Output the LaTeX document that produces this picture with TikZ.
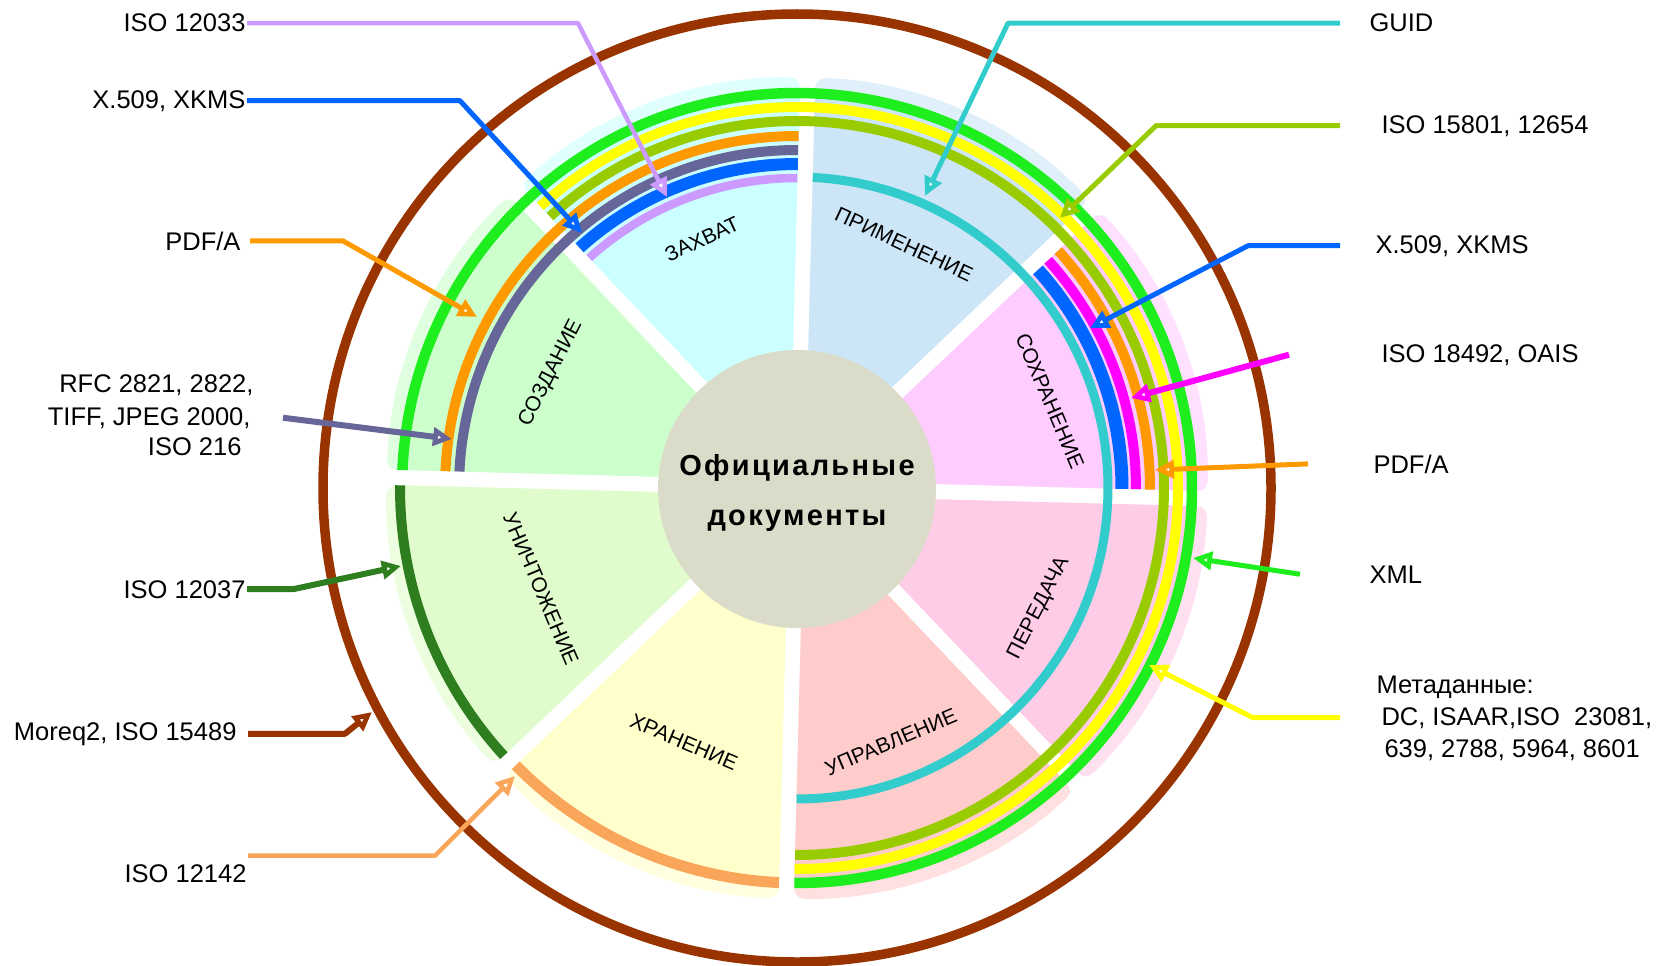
\documentclass[tikz,border=0pt]{standalone}
\usepackage{fontspec}
\setmainfont{Liberation Sans}
\usetikzlibrary{arrows.meta}
\definecolor{cZah}{HTML}{CCFFFF}
\definecolor{cPri}{HTML}{CCE6F7}
\definecolor{cSoh}{HTML}{FFCCFF}
\definecolor{cPer}{HTML}{FFCCE8}
\definecolor{cUpr}{HTML}{FFCCCC}
\definecolor{cHra}{HTML}{FFFFCC}
\definecolor{cUni}{HTML}{E0FCCC}
\definecolor{cSoz}{HTML}{CCFFCC}
\definecolor{aGreen}{HTML}{1EEE1E}
\definecolor{aYellow}{HTML}{FFFF00}
\definecolor{aOlive}{HTML}{99CC00}
\definecolor{aOrange}{HTML}{FF9900}
\definecolor{aSlate}{HTML}{666699}
\definecolor{aBlue}{HTML}{0066FF}
\definecolor{aLav}{HTML}{CC99FF}
\definecolor{aTeal}{HTML}{33CCCC}
\definecolor{aMag}{HTML}{FF00FF}
\definecolor{aLOrange}{HTML}{F9A65A}
\definecolor{aDGreen}{HTML}{2E7D1F}
\definecolor{aBrown}{HTML}{993300}
\definecolor{cCore}{HTML}{DADBC8}
\newcommand\bandarc[5]{\draw[#1, line width=#3pt, line cap=butt] ({#4}:#2) arc[start angle={#4}, end angle={#5}, radius=#2];}
\newcommand\wedgepath[1]{({#1+22.5}:20) -- ++(#1:392) arc[start angle=#1, end angle=#1+45, radius=392] -- cycle}
\begin{document}
\begin{tikzpicture}[x=1pt,y=-1pt,
  lbl/.style={font=\fontsize{25.5}{30}\selectfont, inner sep=0pt, outer sep=1.5pt},
  sec/.style={font=\fontsize{21}{24}\selectfont, inner sep=0pt},
  call/.style={line width=5pt, line join=round, -{Triangle[length=19pt,width=18pt,fill=white]}},
]
\useasboundingbox (0,0) rectangle (1663,966);

% ---- sectors, rings and circle (polar frame centred on the core) ----
\begin{scope}[shift={(797,488)}, yscale=-1]
 \begin{scope}[rotate=1.5]
  % outer, lighter band of every sector
  \foreach \a/\c in {90/cZah, 45/cPri, 0/cSoh, -45/cPer, -90/cUpr, -135/cHra, 180/cUni, 135/cSoz}{
    \fill[\c!60!white, rounded corners=10pt] \wedgepath{\a};
  }
  % inner part of every sector
  \begin{scope}
    \clip (0,0) circle[radius=396];
    \foreach \a/\c in {90/cZah, 45/cPri, 0/cSoh, -45/cPer, -90/cUpr, -135/cHra, 180/cUni, 135/cSoz}{
      \fill[\c, rounded corners=10pt] \wedgepath{\a};
    }
  \end{scope}
  % long rings
  \bandarc{aGreen}{395}{10.5}{180-asin(7.65/395)}{-90+asin(7.65/395)}
  \bandarc{aYellow}{381}{10}{135-asin(7.65/381)}{-90+asin(7.65/381)}
  \bandarc{aOlive}{367}{10}{135-asin(7.65/367)}{-90+asin(7.65/367)}
  % capture + creation
  \bandarc{aOrange}{352}{10}{90+asin(7.65/352)}{180-asin(7.65/352)}
  \bandarc{aSlate}{338}{10}{90+asin(7.65/338)}{180-asin(7.65/338)}
  \bandarc{aBlue}{324}{12}{90+asin(7.65/324)}{135-asin(7.65/324)}
  \bandarc{aLav}{310}{8.5}{90+asin(7.65/310)}{135-asin(7.65/310)}
  % usage .. management
  \bandarc{aTeal}{311}{9}{90-asin(7.65/311)}{-90+asin(7.65/311)}
  % preservation
  \bandarc{aBlue}{325}{13}{asin(7.65/325)}{45-asin(7.65/325)}
  \bandarc{aMag}{339}{10}{asin(7.65/339)}{45-asin(7.65/339)}
  \bandarc{aOrange}{353}{10}{asin(7.65/353)}{45-asin(7.65/353)}
  % storage, destruction
  \bandarc{aLOrange}{395}{11}{-90-asin(7.65/395)}{-135+asin(7.65/395)}
  \bandarc{aDGreen}{397}{10}{180+asin(7.65/397)}{225-asin(7.65/397)}
 \end{scope}
  % outer circle
  \draw[aBrown, line width=9.5pt] (0,0) circle[radius=474];
\end{scope}

\node[circle, fill=cCore, minimum size=278pt, inner sep=0pt] (core) at (797,489) {};
\node[align=center, inner sep=0pt,
      font=\fontsize{29}{50}\selectfont\bfseries\addfontfeatures{LetterSpace=8}] (coretxt) at (797,493)
      {Официальные\\документы};

% ---- sector names ----
\node[sec, rotate=25]  (sZah) at (702,239) {ЗАХВАТ};
\node[sec, rotate=-25] (sPri) at (904,244) {ПРИМЕНЕНИЕ};
\node[sec, rotate=-67] (sSoh) at (1050,401) {СОХРАНЕНИЕ};
\node[sec, rotate=63]  (sPer) at (1039,608) {ПЕРЕДАЧА};
\node[sec, rotate=23]  (sUpr) at (891,742) {УПРАВЛЕНИЕ};
\node[sec, rotate=-23] (sHra) at (684,742) {ХРАНЕНИЕ};
\node[sec, rotate=-67] (sUni) at (541,589) {УНИЧТОЖЕНИЕ};
\node[sec, rotate=63]  (sSoz) at (551,373) {СОЗДАНИЕ};

% ---- left labels ----
\node[lbl, anchor=base east] (l1) at (247,32) {ISO 12033};
\node[lbl, anchor=base east] (l2) at (247,108) {X.509, XKMS};
\node[lbl, anchor=base east] (l3) at (242,250) {PDF/A};
\node[lbl, anchor=base east] (rfcA) at (255,392) {RFC 2821, 2822,};
\node[lbl, anchor=base east] (rfcB) at (252,425) {TIFF, JPEG 2000,};
\node[lbl, anchor=base east] (rfcC) at (243,455) {ISO 216};
\node[lbl, anchor=base east] (l5) at (247,598) {ISO 12037};
\node[lbl, anchor=base east] (l6) at (238,740) {Moreq2, ISO 15489};
\node[lbl, anchor=base east] (l7) at (248,882) {ISO 12142};

% ---- right labels ----
\node[lbl, anchor=base west] (r1) at (1368,32) {GUID};
\node[lbl, anchor=base west] (r2) at (1380,133) {ISO 15801, 12654};
\node[lbl, anchor=base west] (r3) at (1374,253) {X.509, XKMS};
\node[lbl, anchor=base west] (r4) at (1380,362) {ISO 18492, OAIS};
\node[lbl, anchor=base west] (r5) at (1372,473) {PDF/A};
\node[lbl, anchor=base west] (r6) at (1368,583) {XML};
\node[lbl, anchor=base west] (mA) at (1375,693) {Метаданные:};
\node[lbl, anchor=base west] (mB) at (1380,725) {DC, ISAAR,ISO\ \ 23081,};
\node[lbl, anchor=base west] (mC) at (1383,757) {639, 2788, 5964, 8601};

% ---- connector points ----
\coordinate (c1) at (578,24);   \coordinate (t1) at (667,197);
\coordinate (c2) at (460,99);   \coordinate (t2) at (582,233);
\coordinate (c3) at (343,242);  \coordinate (t3) at (477,317);
\coordinate (t4) at (452,439);
\coordinate (c5) at (293,588);  \coordinate (t5) at (401,566);
\coordinate (c6) at (345,731);  \coordinate (t6) at (372,712);
\coordinate (c7) at (435,857);  \coordinate (t7) at (515,776);
\coordinate (s7) at ([yshift=7pt]l7.north east);
\coordinate (cr1) at (1008,24); \coordinate (tr1) at (925,196);
\coordinate (cr2) at (1156,123);\coordinate (tr2) at (1060,218);
\coordinate (cr3) at (1248,244);\coordinate (tr3) at (1090,328);
\coordinate (tr4) at (1131,398);
\coordinate (tr5) at (1155,470);
\coordinate (tr6) at (1193,558);
\coordinate (cr7) at (1253,716);\coordinate (tr7) at (1149,665);
\coordinate (sr1) at ([xshift=-28pt]r1.west);
\coordinate (sr2) at ([xshift=-40pt]r2.west);
\coordinate (sr3) at ([xshift=-34pt]r3.west);
\coordinate (sr4) at ([xshift=-91pt]r4.west);
\coordinate (sr5) at ([xshift=-64pt]r5.west);
\coordinate (sr6) at ([xshift=-68pt]r6.west);
\coordinate (sr7) at ([xshift=-40pt]mB.west);

% ---- connectors ----
\draw[call, aLav, line width=4.5pt] (l1.east) -- (l1.east -| c1) -- (t1);
\draw[call, aBlue] (l2.east) -- (l2.east -| c2) -- (t2);
\draw[call, aOrange] ([xshift=8pt]l3.east) -- (l3.east -| c3) -- (t3);
\draw[call, aSlate, line width=6pt] ([xshift=31pt]rfcB.east) -- (t4);
\draw[call, aDGreen, line width=6pt] (l5.east) -- (l5.east -| c5) -- (t5);
\draw[call, aBrown, line width=6pt] ([xshift=10pt]l6.east) -- (l6.east -| c6) -- (t6);
\draw[call, aLOrange, line width=4.5pt] (s7) -- (s7 -| c7) -- (t7);
\draw[call, aTeal] (sr1) -- (sr1 -| cr1) -- (tr1);
\draw[call, aOlive] (sr2) -- (sr2 -| cr2) -- (tr2);
\draw[call, aBlue] (sr3) -- (sr3 -| cr3) -- (tr3);
\draw[call, aMag, line width=6pt] (sr4) -- (tr4);
\draw[call, aOrange] (sr5) -- (tr5);
\draw[call, aGreen] (sr6) -- (tr6);
\draw[call, aYellow] (sr7) -- (sr7 -| cr7) -- (tr7);
\end{tikzpicture}
\end{document}
